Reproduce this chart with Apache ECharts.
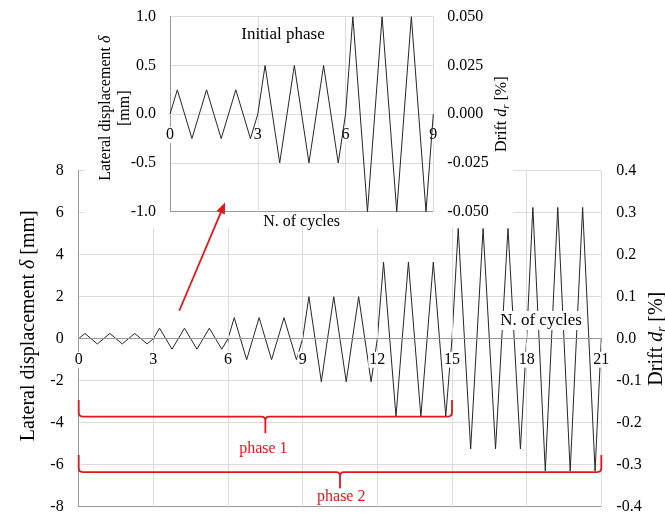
<!DOCTYPE html>
<html><head><meta charset="utf-8">
<script src="https://cdn.jsdelivr.net/npm/echarts@6/dist/echarts.min.js"></script>
<style>html,body{margin:0;padding:0;background:#fff}#c{width:665px;height:513px}</style>
</head><body><div id="c"></div>
<script>
// ---- data ----
const cycleX = [0,
  0.25,0.75,1, 1.25,1.75,2, 2.25,2.75,3,
  3.25,3.75,4, 4.25,4.75,5, 5.25,5.75,6,
  6.25,6.75,7, 7.25,7.75,8, 8.25,8.75,9,
  9.25,9.75,10, 10.25,10.75,11, 11.25,11.75,12,
  12.25,12.75,13, 13.25,13.75,14, 14.25,14.75,15,
  15.25,15.75,16, 16.25,16.75,17, 17.25,17.75,18,
  18.25,18.75,19, 19.25,19.75,20, 20.25,20.75,21];
const displacement = [0,
  0.25,-0.25,0, 0.25,-0.25,0, 0.25,-0.25,0,
  0.5,-0.5,0, 0.5,-0.5,0, 0.5,-0.5,0,
  1,-1,0, 1,-1,0, 1,-1,0,
  2,-2.05,0, 2,-2.05,0, 2,-2.05,0,
  3.65,-3.7,0, 3.65,-3.7,0, 3.65,-3.7,0,
  5.25,-5.25,0, 5.25,-5.25,0, 5.25,-5.25,0,
  6.25,-6.3,0, 6.25,-6.3,0, 6.25,-6.3,0];
const mainCycleRange = [0, 21];
const mainDispRange = [-8, 8];
const mainDriftRange = [-0.4, 0.4];
const insetCycleRange = [0, 9];
const insetDispRange = [-1, 1];
const insetDriftRange = [-0.05, 0.05];
// phase braces (data units of the main chart)
const braceStart = [0, 0];
const braceEnd = [15, 21];
const braceTop = [-2.92, -5.54];
const braceLevel = [-3.71, -6.35];
const braceTip = [-4.5, -7.12];
const braceLabel = ['phase 1', 'phase 2'];
const braceLabelX = [7.42, 10.55];
const braceLabelY = [-5.22, -7.54];
// red arrow (data units of the main chart)
const arrowFrom = [4.04, 1.33];
const arrowTo = [5.88, 6.48];

// ---- styling / layout ----
const FONT = 'Liberation Serif';
const RED = '#e3161d';
const AX = '#9a9a9a';
const GR = '#dcdcdc';
const LINE = '#262626';
const MAIN = {left: 78.7, top: 170.7, width: 522.6, height: 336};
const INSET = {left: 170, top: 16.7, width: 263.3, height: 195};
// the cycle axes sit on the zero displacement line (middle of each symmetric range)
const mainZeroOffset = -MAIN.height / 2;
const insetZeroOffset = -INSET.height / 2;

const mainData = cycleX.map((x, i) => [x, displacement[i]]);
const insetData = mainData.filter(p => p[0] <= insetCycleRange[1]);
const braceData = braceStart.map((s, i) => [s, braceEnd[i], braceTop[i], braceLevel[i], braceTip[i], braceLabelX[i], braceLabelY[i]]);

const chart = echarts.init(document.getElementById('c'), null, {renderer: 'canvas'});
const lbl = (extra) => Object.assign({color: '#000', fontFamily: FONT, fontSize: 16}, extra || {});

chart.setOption({
  animation: false,
  backgroundColor: '#fff',
  title: [
    {text: 'Initial phase', left: 283, top: 26, textAlign: 'center', padding: 0,
     textStyle: {fontFamily: FONT, fontSize: 17, fontWeight: 'normal', color: '#000'}},
    {text: 'N. of cycles', left: 538, top: 311, textAlign: 'center', padding: [1, 3],
     backgroundColor: '#fff',
     textStyle: {fontFamily: FONT, fontSize: 17, fontWeight: 'normal', color: '#000'}}
  ],
  graphic: {elements: [
    {type: 'rect', z: 4, silent: true, shape: {x: 84, y: 0, width: 429, height: 227}, style: {fill: '#fff'}}
  ]},
  grid: [
    Object.assign({outerBoundsMode: 'none', containLabel: false}, MAIN),
    Object.assign({outerBoundsMode: 'none', containLabel: false}, INSET)
  ],
  xAxis: [
    {gridIndex: 0, type: 'value', min: mainCycleRange[0], max: mainCycleRange[1], interval: 3, z: 3,
     position: 'bottom', offset: mainZeroOffset,
     axisLine: {onZero: false, lineStyle: {color: AX, width: 1}},
     axisTick: {show: true, length: 4, lineStyle: {color: AX}},
     axisLabel: lbl({margin: 13, backgroundColor: '#fff', padding: [0, 1]}),
     splitLine: {show: true, lineStyle: {color: [AX, GR, GR, GR, GR, GR, GR, GR], width: 1}}},
    {gridIndex: 1, type: 'value', min: insetCycleRange[0], max: insetCycleRange[1], interval: 3, z: 5,
     position: 'bottom', offset: insetZeroOffset,
     axisLine: {onZero: false, lineStyle: {color: GR, width: 1}},
     axisTick: {show: false},
     axisLabel: lbl({margin: 13, backgroundColor: '#fff', padding: [0, 1]}),
     splitLine: {show: true, lineStyle: {color: [AX, GR, GR, GR], width: 1}},
     name: 'N. of cycles', nameLocation: 'middle', nameGap: 100, nameMoveOverlap: false,
     nameTextStyle: lbl({fontSize: 16})}
  ],
  yAxis: [
    {gridIndex: 0, type: 'value', min: mainDispRange[0], max: mainDispRange[1], interval: 2, z: 0,
     axisLine: {show: true, onZero: false, lineStyle: {color: AX}},
     axisTick: {show: false},
     axisLabel: lbl({margin: 15}),
     splitLine: {show: true, lineStyle: {color: [AX, GR, GR, GR, GR, GR, GR, GR, GR]}},
     name: 'Lateral displacement {i|δ} [mm]', nameLocation: 'middle', nameGap: 40, nameRotate: 90, nameMoveOverlap: false,
     nameTextStyle: lbl({fontSize: 20, padding: [0, 0, 0, 26],
       rich: {i: {fontFamily: FONT, fontSize: 20, fontStyle: 'italic', color: '#000'}}})},
    {gridIndex: 0, type: 'value', position: 'right', min: mainDriftRange[0], max: mainDriftRange[1], interval: 0.1, z: 0,
     axisLine: {show: false, onZero: false}, axisTick: {show: false},
     axisLabel: lbl({margin: 15, formatter: v => v.toFixed(1)}),
     splitLine: {show: false},
     name: 'Drift {i|d}{s|r} [%]', nameLocation: 'middle', nameGap: 43, nameRotate: 90, nameMoveOverlap: false,
     nameTextStyle: lbl({fontSize: 20, lineHeight: 24,
       rich: {i: {fontFamily: FONT, fontSize: 20, fontStyle: 'italic', color: '#000', lineHeight: 24},
              s: {fontFamily: FONT, fontSize: 13, fontStyle: 'italic', color: '#000', verticalAlign: 'bottom', lineHeight: 24}}})},
    {gridIndex: 1, type: 'value', min: insetDispRange[0], max: insetDispRange[1], interval: 0.5, z: 5,
     axisLine: {show: true, onZero: false, lineStyle: {color: AX}},
     axisTick: {show: false},
     axisLabel: lbl({margin: 14, formatter: v => v.toFixed(1)}),
     splitLine: {show: true, lineStyle: {color: [AX, GR, GR, GR, GR]}},
     name: 'Lateral displacement {i|δ}\n[mm]', nameLocation: 'middle', nameGap: 36, nameRotate: 90, nameMoveOverlap: false,
     nameTextStyle: lbl({fontSize: 16, lineHeight: 19, padding: [0, 0, 0, 12],
       rich: {i: {fontFamily: FONT, fontSize: 16, fontStyle: 'italic', color: '#000', lineHeight: 19}}})},
    {gridIndex: 1, type: 'value', position: 'right', min: insetDriftRange[0], max: insetDriftRange[1], interval: 0.025, z: 5,
     axisLine: {show: false, onZero: false}, axisTick: {show: false},
     axisLabel: lbl({margin: 14, formatter: v => v.toFixed(3)}),
     splitLine: {show: false},
     name: 'Drift {i|d}{s|r} [%]', nameLocation: 'middle', nameGap: 58, nameRotate: 90, nameMoveOverlap: false,
     nameTextStyle: lbl({fontSize: 16, lineHeight: 20,
       rich: {i: {fontFamily: FONT, fontSize: 16, fontStyle: 'italic', color: '#000', lineHeight: 20},
              s: {fontFamily: FONT, fontSize: 11, fontStyle: 'italic', color: '#000', verticalAlign: 'bottom', lineHeight: 20}}})}
  ],
  series: [
    {type: 'line', xAxisIndex: 0, yAxisIndex: 0, data: mainData, symbol: 'none', z: 2,
     lineStyle: {color: LINE, width: 1}, silent: true},
    {type: 'line', xAxisIndex: 1, yAxisIndex: 2, data: insetData, symbol: 'none', z: 6,
     lineStyle: {color: LINE, width: 1}, silent: true},
    {type: 'custom', xAxisIndex: 0, yAxisIndex: 0, z: 7, silent: true, data: braceData,
     renderItem: function (params, api) {
       const x0 = api.value(0), x1 = api.value(1), top = api.value(2), lev = api.value(3), tip = api.value(4);
       const mid = (x0 + x1) / 2;
       const pA = api.coord([x0, top]), pL = api.coord([x0, lev]);
       const pM = api.coord([mid, lev]), pT = api.coord([mid, tip]);
       const pB = api.coord([x1, top]), pR = api.coord([x1, lev]);
       const pLab = api.coord([api.value(5), api.value(6)]);
       const r = 4, y = pL[1];
       const d = 'M' + pA[0] + ',' + pA[1] + ' L' + pA[0] + ',' + (y - r) +
         ' Q' + pA[0] + ',' + y + ' ' + (pA[0] + r) + ',' + y +
         ' L' + (pM[0] - r) + ',' + y + ' Q' + pM[0] + ',' + y + ' ' + pM[0] + ',' + (y + r) +
         ' L' + pT[0] + ',' + pT[1] +
         ' M' + pM[0] + ',' + (y + r) + ' Q' + pM[0] + ',' + y + ' ' + (pM[0] + r) + ',' + y +
         ' L' + (pR[0] - r) + ',' + y + ' Q' + pR[0] + ',' + y + ' ' + pR[0] + ',' + (y - r) +
         ' L' + pB[0] + ',' + pB[1];
       return {type: 'group', children: [
         {type: 'path', shape: {pathData: d}, style: {stroke: RED, fill: null, lineWidth: 1.8}},
         {type: 'text', x: pLab[0], y: pLab[1], style: {text: braceLabel[params.dataIndex], fill: RED,
           font: '16px "' + FONT + '"', align: 'center', verticalAlign: 'middle', textAlign: 'center', textVerticalAlign: 'middle'}}
       ]};
     }},
    {type: 'custom', xAxisIndex: 0, yAxisIndex: 0, z: 8, silent: true, data: [[arrowFrom[0], arrowFrom[1], arrowTo[0], arrowTo[1]]],
     renderItem: function (params, api) {
       const p0 = api.coord([api.value(0), api.value(1)]);
       const p1 = api.coord([api.value(2), api.value(3)]);
       const dx = p1[0] - p0[0], dy = p1[1] - p0[1];
       const L = Math.sqrt(dx * dx + dy * dy), ux = dx / L, uy = dy / L;
       const hl = 11, hw = 4.5;
       const bx = p1[0] - ux * hl, by = p1[1] - uy * hl;
       return {type: 'group', children: [
         {type: 'line', shape: {x1: p0[0], y1: p0[1], x2: bx + ux * 2, y2: by + uy * 2}, style: {stroke: RED, lineWidth: 1.8}},
         {type: 'polygon', shape: {points: [[p1[0], p1[1]], [bx - uy * hw, by + ux * hw], [bx + uy * hw, by - ux * hw]]}, style: {fill: RED}}
       ]};
     }}
  ]
});
</script></body></html>
